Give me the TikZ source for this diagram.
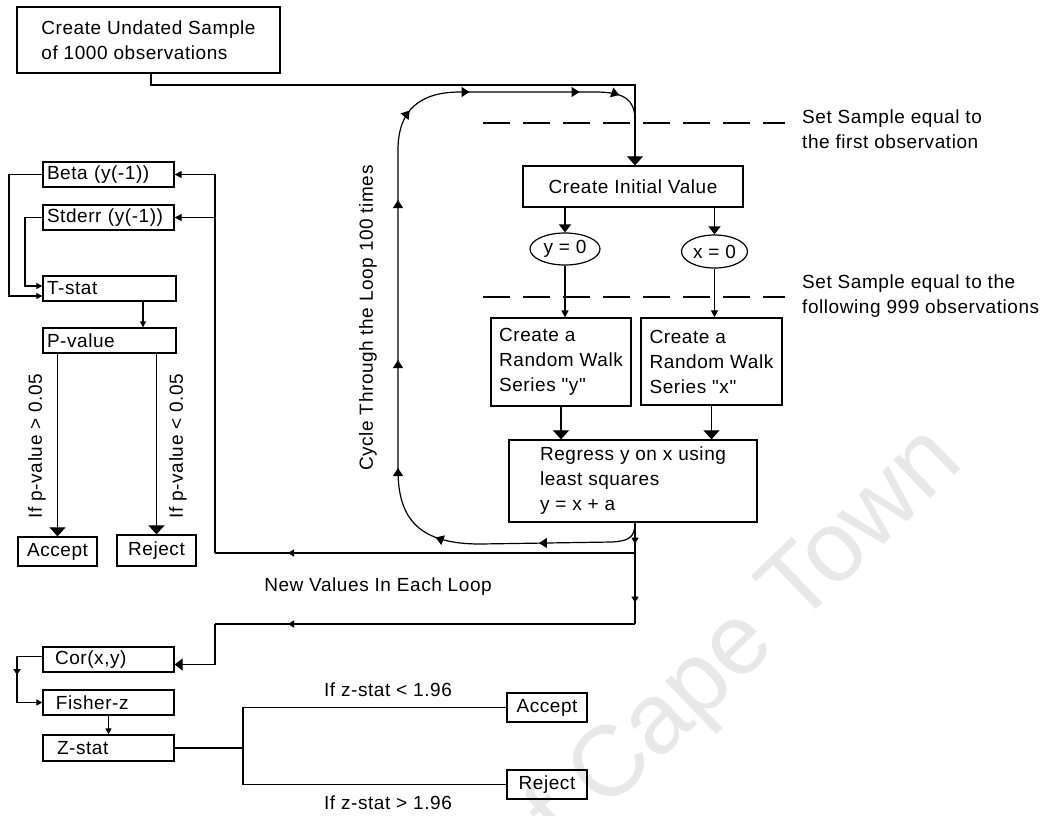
\documentclass[tikz,border=0pt]{standalone}
\usepackage{fontspec}
\setmainfont{Liberation Sans}[LetterSpace=3, Ligatures=TeXOff]
\newfontfamily\wmfont{Liberation Sans}
\usetikzlibrary{arrows.meta,shapes.geometric,decorations.markings,calc}
\tikzset{
  txt/.style={font=\fontsize{19}{25}\selectfont, inner sep=0pt},
  box/.style={txt, draw, rectangle, line width=1.3pt, align=center},
  oval/.style={txt, draw, ellipse, line width=1.2pt},
  conn/.style={line width=1.2pt},
  bigarr/.style={conn, -{Triangle[width=16pt,length=9pt]}},
  medarr/.style={conn, -{Triangle[width=12pt,length=8pt]}},
  smallarr/.style={conn, -{Triangle[width=7pt,length=7pt]}},
  tinyarr/.style={conn, -{Triangle[width=6pt,length=6pt]}},
  guide/.style={line width=1.1pt, dash pattern=on 27pt off 13pt},
  mtip/.tip={Triangle[width=10pt,length=8pt]},
  stip/.tip={Triangle[width=7pt,length=6pt]},
}
\begin{document}
\begin{tikzpicture}[x=1pt,y=-1pt]
\useasboundingbox (0,0) rectangle (1045,815);
\clip (0,0) rectangle (1045,815);
\fill[white] (0,0) rectangle (1045,815);
% watermark
\node[rotate=44, inner sep=0pt, text=black!9, font=\wmfont\fontsize{100}{100}\selectfont] (wm) at (728,659) {of Cape Town};

% boxes
\node[box, minimum width=263pt, minimum height=66pt, align=left] (start) at (148.5,40) {Create Undated Sample\\of 1000 observations};
\node[box, minimum width=220pt, minimum height=41pt] (init) at (633,186.5) {Create Initial Value};
\node[oval, minimum width=70pt, minimum height=32pt] (ey) at (565,249) {y = 0};
\node[oval, minimum width=66pt, minimum height=33pt] (ex) at (714.5,251.5) {x = 0};
\node[box, minimum width=140pt, minimum height=88pt, align=left] (rwy) at (561,362) {Create a\\Random Walk\\Series "y"};
\node[box, minimum width=141pt, minimum height=87pt, align=left] (rwx) at (711.5,361.5) {Create a\\Random Walk\\Series "x"};
\node[box, minimum width=248pt, minimum height=82pt, align=left] (reg) at (633,481) {Regress y on x using\\least squares\\y = x + a};

\node[box, text width=123pt, inner xsep=4pt, minimum height=25pt, align=left] (beta) at (108.5,174.5) {Beta (y(-1))};
\node[box, text width=123pt, inner xsep=4pt, minimum height=25pt, align=left] (stderr) at (108.5,217.5) {Stderr (y(-1))};
\node[box, text width=125pt, inner xsep=4pt, minimum height=25pt, align=left] (tstat) at (109.5,288.5) {T-stat};
\node[box, text width=125pt, inner xsep=4pt, minimum height=25pt, align=left] (pval) at (109.5,340.5) {P-value};
\node[box, minimum width=79pt, minimum height=29pt] (acc1) at (57.5,551.5) {Accept};
\node[box, minimum width=79pt, minimum height=31pt] (rej1) at (156.5,550.5) {Reject};

\node[box, text width=107pt, inner xsep=12pt, minimum height=25pt, align=left] (cor) at (108.5,659.5) {Cor(x,y)};
\node[box, text width=105pt, inner xsep=13pt, minimum height=25pt, align=left] (fisher) at (108.5,702.5) {Fisher-z};
\node[box, text width=103pt, inner xsep=14pt, minimum height=26pt, align=left] (zstat) at (108.5,748) {Z-stat};
\node[box, minimum width=80pt, minimum height=29pt] (acc2) at (547,707.5) {Accept};
\node[box, minimum width=80pt, minimum height=29pt] (rej2) at (547,784.5) {Reject};

% free texts
\node[txt, align=left, anchor=west] (note1) at (802,129) {Set Sample equal to\\the first observation};
\node[txt, align=left, anchor=west] (note2) at (802,296) {Set Sample equal to the\\following 999 observations};
\node[txt, rotate=90] (cyc) at (368,318) {Cycle Through the Loop 100 times};
\node[txt] (newv) at (378,587) {New Values In Each Loop};
\node[txt, rotate=90] (lp1) at (37,446) {If p-value {>} 0.05};
\node[txt, rotate=90] (lp2) at (178,446) {If p-value {<} 0.05};
\node[txt] (lz1) at (388,690) {If z-stat {<} 1.96};
\node[txt] (lz2) at (388,803) {If z-stat {>} 1.96};

% coordinates
\coordinate (c1) at (151,85);
\coordinate (c2) at (635,85);
\coordinate (cmerge) at (635,118);
\coordinate (cdown) at (635,624);
\coordinate (cbr) at (635,553);
\coordinate (cleft) at (215,553);
\coordinate (clow) at (215,624);
\coordinate (bl) at (9,0);
\coordinate (sl) at (25,0);
\coordinate (tx) at (143,0);
\coordinate (cl) at (17,0);
\coordinate (zj) at (243,0);
\coordinate (d1a) at (483,123);
\coordinate (d1b) at (785,123);
\coordinate (d2a) at (483,297);
\coordinate (d2b) at (785,297);

% dashed guides
\draw[guide] (d1a) -- (d1b);
\draw[guide] (d2a) -- (d2b);

% main flow
\draw[bigarr] (start.south -| c1) -- (c1) -- (c2) -- (init.north -| c2);
\draw[medarr] (init.south -| ey.north) -- (ey.north);
\draw[medarr] (init.south -| ex.north) -- (ex.north);
\draw[smallarr] (ey.south) -- (rwy.north -| ey.south);
\draw[smallarr] (ex.south) -- (rwx.north -| ex.south);
\draw[bigarr] (rwy.south) -- (reg.north -| rwy.south);
\draw[bigarr] (rwx.south) -- (reg.north -| rwx.south);

% loop
\draw[conn, postaction=decorate, decoration={markings,
  mark=at position 108pt with {\arrow{mtip}},
  mark=at position 212pt with {\arrow{mtip}},
  mark=at position 297pt with {\arrow{mtip}},
  mark=at position 405pt with {\arrow{mtip}},
  mark=at position 565pt with {\arrow{mtip}},
  mark=at position 657pt with {\arrow{mtip}},
  mark=at position 722pt with {\arrow{mtip}},
  mark=at position 832pt with {\arrow{mtip}},
  mark=at position 872pt with {\arrow{mtip}}}]
  (reg.south -| cdown) .. controls (635,538) and (628,541) .. (612,542)
  -- (480,544) .. controls (420,544) and (398,520) .. (398,470)
  -- (398,150) .. controls (398,110) and (420,92) .. (460,92)
  -- (595,92) .. controls (625,92) and (634,100) .. (cmerge);

% down line from regression
\draw[conn, postaction=decorate, decoration={markings,
  mark=at position 21pt with {\arrow{stip}},
  mark=at position 80pt with {\arrow{stip}}}]
  (reg.south -| cdown) -- (cdown);

% branch to beta / stderr
\draw[conn, postaction=decorate, decoration={markings,
  mark=at position 347pt with {\arrow{stip}}}]
  (cbr) -- (cleft);
\draw[smallarr] (cleft) |- (beta.east);
\draw[smallarr] (cleft) |- (stderr.east);

% branch to cor
\draw[conn, postaction=decorate, decoration={markings,
  mark=at position 347pt with {\arrow{stip}}}]
  (cdown) -- (clow);
\draw[medarr] (clow) |- ($(cor.east)+(0,5)$);

% left t-test
\draw[tinyarr] (beta.west) -- (beta.west -| bl) |- ($(tstat.west)+(0,7.5)$);
\draw[tinyarr] (stderr.west) -- (stderr.west -| sl) |- ($(tstat.west)+(0,-2.5)$);
\draw[tinyarr] (tstat.south -| tx) -- (pval.north -| tx);
\draw[bigarr] (pval.south -| acc1.north) -- (acc1.north);
\draw[bigarr] (pval.south -| rej1.north) -- (rej1.north);

% bottom z-test
\draw[tinyarr, postaction=decorate, decoration={markings,
  mark=at position 44pt with {\arrow{stip}}}]
  ($(cor.west)+(0,-3)$) -- ($(cor.west -| cl)+(0,-3)$) |- (fisher.west);
\draw[tinyarr] (fisher.south) -- (zstat.north);
\draw[conn] (zstat.east) -- (zstat.east -| zj);
\draw[conn] (zstat.east -| zj) |- (acc2.west);
\draw[conn] (zstat.east -| zj) |- (rej2.west);
\end{tikzpicture}
\end{document}
